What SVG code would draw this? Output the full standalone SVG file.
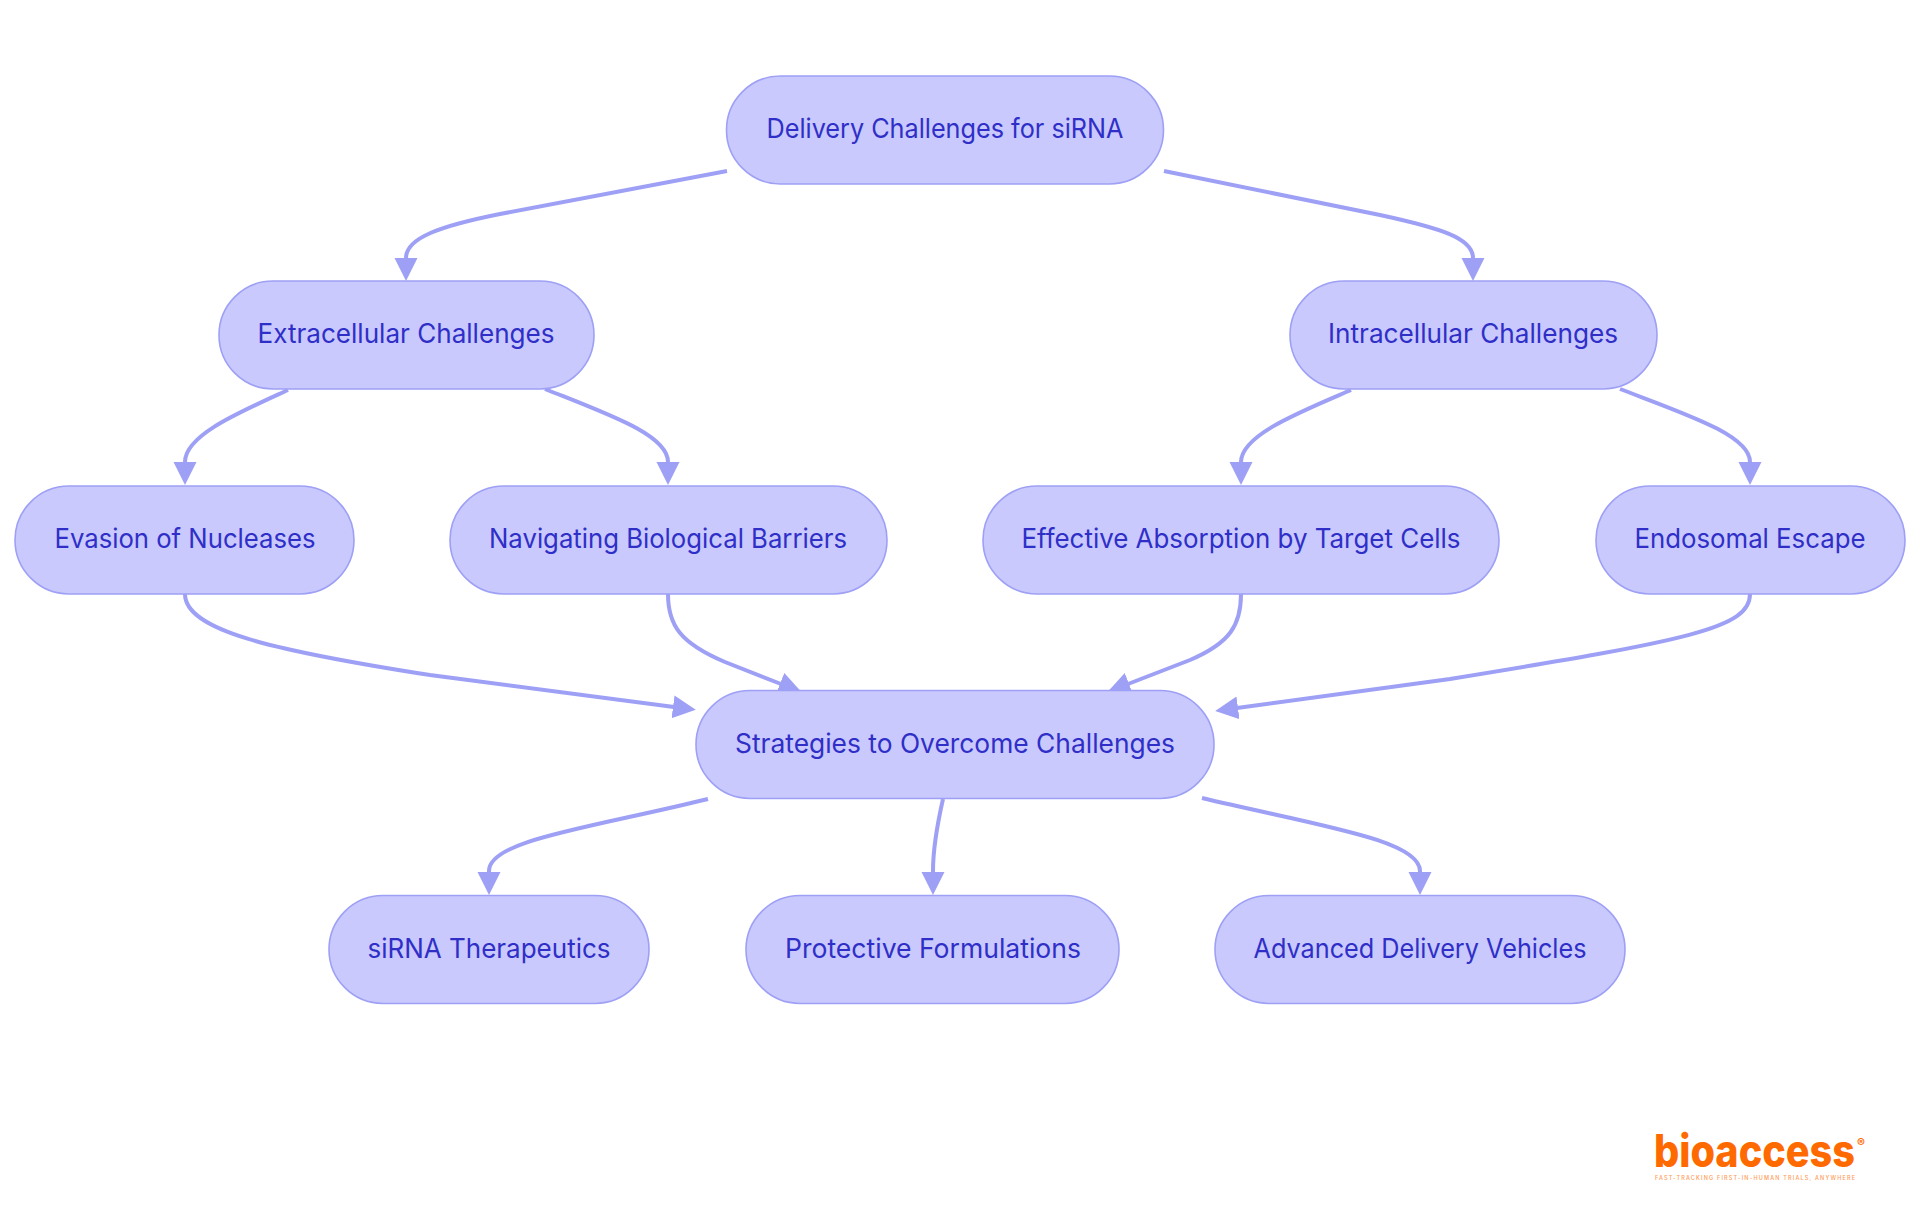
<svg xmlns="http://www.w3.org/2000/svg" width="1920" height="1215" viewBox="0 0 1920 1215">
<style>
.n rect{fill:#c9c9fd;stroke:#9ea0f5;stroke-width:1.6}
.n text{font-family:"Inter","Noto Sans",sans-serif;font-size:27px;fill:#2f2fc8;text-anchor:middle}
#edges path{fill:none;stroke:#9ea0f5;stroke-width:4;marker-end:url(#a)}
</style>
<defs><marker id="a" markerUnits="userSpaceOnUse" markerWidth="26" markerHeight="26" refX="1" refY="11.500" orient="auto"><path d="M0,0L23,11.500L0,23Z" fill="#9ea0f5"/></marker></defs>
<rect width="1920" height="1215" fill="#fff"/>
<g id="edges">
<path d="M727,171L500,214C440,226 406,238 406,258L406,259"/>
<path d="M1164,171L1380,215C1440,228 1473,238 1473,258L1473,259"/>
<path d="M288,390C240,412 185,435 185,462L185,463"/>
<path d="M545,389C610,415 668,435 668,462L668,463"/>
<path d="M1351,390C1300,412 1241,435 1241,462L1241,463"/>
<path d="M1620,389C1685,414 1750,435 1750,462L1750,463"/>
<path d="M185,594C185,630 270,650 430,675L674,707"/>
<path d="M668,594C668,625 680,643 725,662L781,684"/>
<path d="M1241,594C1241,625 1230,643 1190,660L1128,684"/>
<path d="M1750,594C1750,628 1690,640 1450,679L1237,708"/>
<path d="M708,799C590,828 489,840 489,871L489,873"/>
<path d="M943,799C936,830 933,850 933,871L933,873"/>
<path d="M1202,798C1320,826 1420,840 1420,871L1420,873"/>
</g>
<g id="n1" class="n"><rect x="726.5" y="76" width="437" height="108" rx="54"/><text x="945" y="138" textLength="357" lengthAdjust="spacingAndGlyphs">Delivery Challenges for siRNA</text></g>
<g id="n2" class="n"><rect x="219" y="281" width="375" height="108" rx="54"/><text x="406" y="343" textLength="297" lengthAdjust="spacingAndGlyphs">Extracellular Challenges</text></g>
<g id="n3" class="n"><rect x="1290" y="281" width="367" height="108" rx="54"/><text x="1473" y="343" textLength="290" lengthAdjust="spacingAndGlyphs">Intracellular Challenges</text></g>
<g id="n4" class="n"><rect x="15" y="486" width="339" height="108" rx="54"/><text x="185" y="548" textLength="261" lengthAdjust="spacingAndGlyphs">Evasion of Nucleases</text></g>
<g id="n5" class="n"><rect x="450" y="486" width="437" height="108" rx="54"/><text x="668" y="548" textLength="358" lengthAdjust="spacingAndGlyphs">Navigating Biological Barriers</text></g>
<g id="n6" class="n"><rect x="983" y="486" width="516" height="108" rx="54"/><text x="1241" y="548" textLength="439" lengthAdjust="spacingAndGlyphs">Effective Absorption by Target Cells</text></g>
<g id="n7" class="n"><rect x="1596" y="486" width="309" height="108" rx="54"/><text x="1750" y="548" textLength="231" lengthAdjust="spacingAndGlyphs">Endosomal Escape</text></g>
<g id="n8" class="n"><rect x="696" y="690.500" width="518" height="108" rx="54"/><text x="955" y="753" textLength="440" lengthAdjust="spacingAndGlyphs">Strategies to Overcome Challenges</text></g>
<g id="n9" class="n"><rect x="329" y="895.500" width="320" height="108" rx="54"/><text x="489" y="958" textLength="243" lengthAdjust="spacingAndGlyphs">siRNA Therapeutics</text></g>
<g id="n10" class="n"><rect x="746" y="895.500" width="373" height="108" rx="54"/><text x="933" y="958" textLength="296" lengthAdjust="spacingAndGlyphs">Protective Formulations</text></g>
<g id="n11" class="n"><rect x="1215" y="895.500" width="410" height="108" rx="54"/><text x="1420" y="958" textLength="333" lengthAdjust="spacingAndGlyphs">Advanced Delivery Vehicles</text></g>
<g id="logo"><text x="1654" y="1167" font-family="Inter,sans-serif" font-weight="800" font-size="45" fill="#ff6a00" textLength="201" lengthAdjust="spacingAndGlyphs">bioaccess</text><text x="1857" y="1147" font-family="Inter,sans-serif" font-weight="700" font-size="12" fill="#ff6a00">®</text><text x="1655" y="1180" font-family="Inter,sans-serif" font-size="5.500" font-weight="500" fill="#ff9a55" textLength="200">FAST-TRACKING FIRST-IN-HUMAN TRIALS, ANYWHERE</text></g>
</svg>
